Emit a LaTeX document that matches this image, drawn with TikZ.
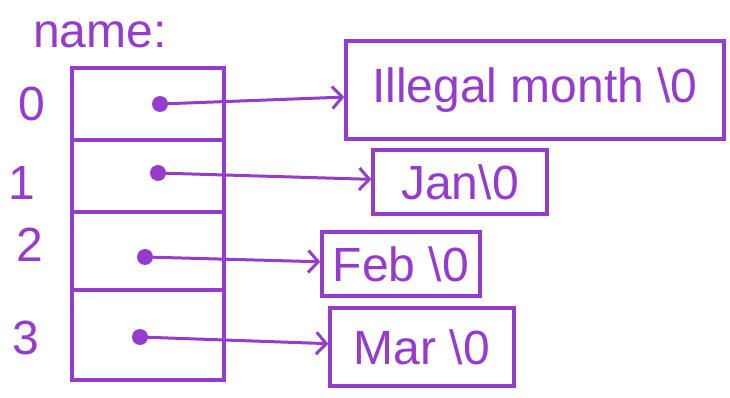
\documentclass[tikz,border=0pt]{standalone}
\usepackage{fontspec}
\setmainfont{Liberation Sans}
\usetikzlibrary{positioning,arrows.meta}
\definecolor{ink}{RGB}{150,60,205}
\begin{document}
\begin{tikzpicture}[x=1pt,y=-1pt,draw=ink,text=ink,
    every node/.style={font=\fontsize{48}{52}\selectfont},
    every edge/.style={draw=ink,line width=3pt,-{Straight Barb[length=10pt,width=22pt]}}]
    \tikzset{cell/.style={draw=ink,line width=3.4pt,minimum width=152pt,inner sep=0pt,outer sep=0pt},
      str/.style={draw=ink,line width=3.4pt,inner sep=0pt},
      ptr/.style={circle,fill=ink,minimum size=16pt,inner sep=0pt}};
    \useasboundingbox (0,0) rectangle (730,398);
    \node at (100,35) (lbl) {name:};
    \node[cell, minimum height=72pt] at (148,104) (c0) {};
    \node[cell, minimum height=72pt, below=0pt of c0] (c1) {};
    \node[cell, minimum height=78pt, below=0pt of c1] (c2) {};
    \node[cell, minimum height=90pt, below=0pt of c2] (c3) {};
    \node at (32,104) (i0) {0};
    \node at (22,183) (i1) {1};
    \node at (30,245) (i2) {2};
    \node at (26,338) (i3) {3};
    \node[ptr] at (160,104) (p0) {};
    \node[ptr] at (158,173) (p1) {};
    \node[ptr] at (145,257) (p2) {};
    \node[ptr] at (140,337) (p3) {};
    \node[str, minimum width=378pt, minimum height=98pt] at (535,90) (s0) {Illegal month \textbackslash0};
    \node[str, minimum width=174pt, minimum height=64pt] at (460,182) (s1) {Jan\textbackslash0};
    \node[str, minimum width=158pt, minimum height=64pt] at (401,264) (s2) {Feb \textbackslash0};
    \node[str, minimum width=184pt, minimum height=78pt] at (422,347) (s3) {Mar \textbackslash0};
    {
       \path
        (p0) edge (s0)
        (p1) edge (s1)
        (p2) edge (s2)
        (p3) edge (s3)
        ;
      }
\end{tikzpicture}
\end{document}
